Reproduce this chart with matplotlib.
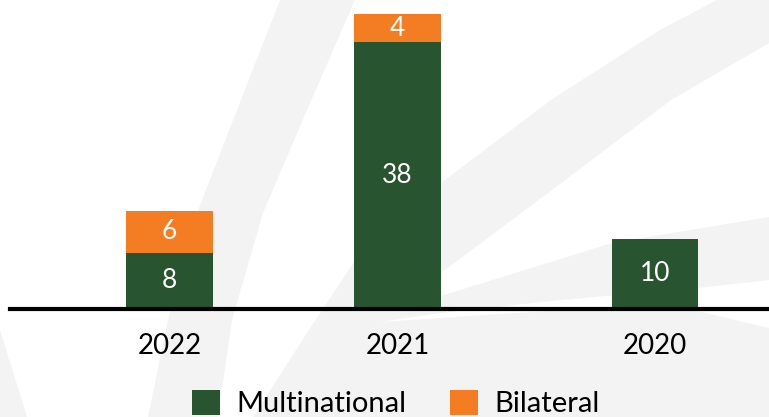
import matplotlib.pyplot as plt
from matplotlib.patches import Polygon

years = ["2022", "2021", "2020"]
multinational = [8, 38, 10]
bilateral = [6, 4, 0]

green = "#28552f"
orange = "#f47c22"
swoosh = "#f3f3f3"

plt.rcParams["font.family"] = ["Lato", "DejaVu Sans"]

W, H = 769, 417
fig = plt.figure(figsize=(W / 100, H / 100), dpi=100)
fig.patch.set_facecolor("white")

# faint background swooshes, drawn in pixel coords (y down) on a back axes
bg = fig.add_axes([0, 0, 1, 1], zorder=-1)
bg.set_xlim(0, W)
bg.set_ylim(H, 0)
bg.axis("off")
shapes = [
    ([(0, 330), (27, 417), (0, 417)], swoosh),
    ([(280, 0), (237, 110), (197, 213), (168, 320), (148, 417),
      (218, 417), (232, 320), (263, 213), (307, 110), (355, 0)], swoosh),
    ([(253, 417), (307, 333), (354, 262), (441, 183), (551, 100), (660, 30),
      (717, 0), (769, 0), (769, 417)], swoosh),
    ([(769, 43), (671, 100), (556, 187), (441, 273), (395, 300), (441, 296),
      (612, 243), (769, 217)], "white"),
    ([(769, 280), (698, 288), (560, 300), (441, 313), (380, 322), (500, 314),
      (600, 308), (697, 311), (769, 328)], "white"),
]
for pts, c in shapes:
    bg.add_patch(Polygon(pts, closed=True, facecolor=c, edgecolor="none"))

ax = fig.add_axes([10 / W, 108 / H, 759 / W, 309 / H])
ax.set_facecolor("none")

xpos = [0, 1, 2.13]
bw = 0.38
b1 = ax.bar(xpos, multinational, bw, color=green, label="Multinational", zorder=2)
b2 = ax.bar(xpos, bilateral, bw, bottom=multinational, color=orange,
            label="Bilateral", zorder=2)

ax.bar_label(b1, labels=[str(v) for v in multinational], label_type="center",
             color="white", fontsize=19)
ax.bar_label(b2, labels=[str(v) if v else "" for v in bilateral], label_type="center",
             color="white", fontsize=19)

ax.set_xlim(-0.70, 2.63)
ax.set_ylim(0, 44)
for s in ["top", "right", "left"]:
    ax.spines[s].set_visible(False)
ax.spines["bottom"].set_linewidth(3)
ax.spines["bottom"].set_zorder(3)
ax.set_yticks([])
ax.set_xticks(xpos, years)
ax.tick_params(axis="x", length=0, pad=17, labelsize=20)

fig.legend(handles=[b1, b2], loc="upper center", bbox_to_anchor=(0.515, 1 - 375 / H),
           ncol=2, frameon=False, fontsize=21, borderpad=0, handlelength=0.96,
           handleheight=0.96, handletextpad=0.55, columnspacing=1.5)

fig.savefig("out.png", dpi=100)
